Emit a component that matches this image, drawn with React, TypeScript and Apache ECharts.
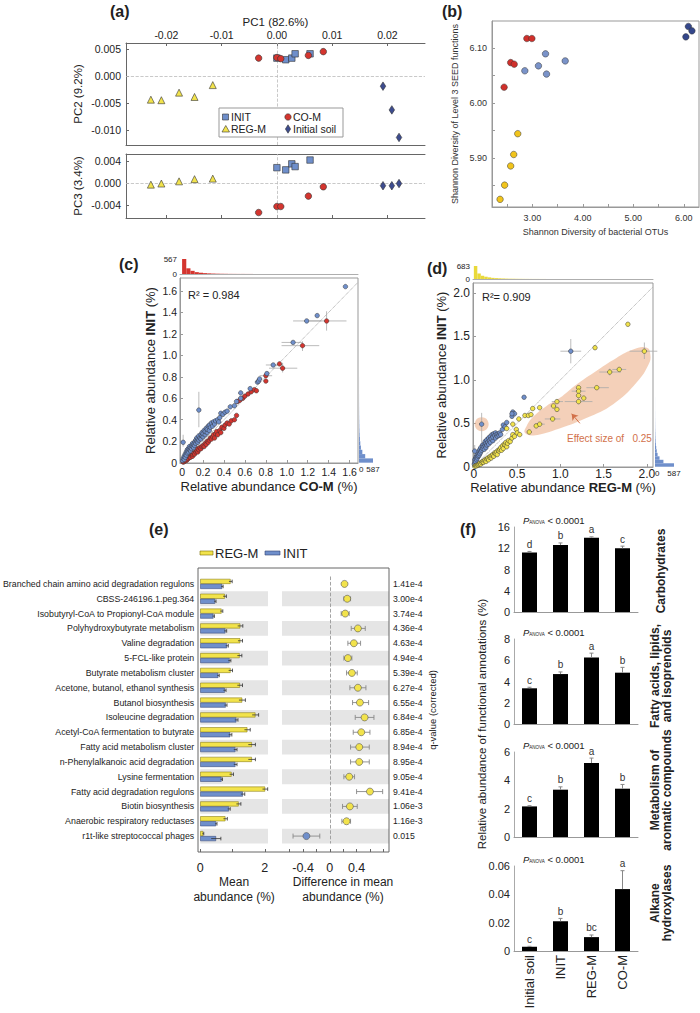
import { useEffect, useRef } from "react";
import * as echarts from "echarts";

const FONT = '"Liberation Sans", Arial, Helvetica, sans-serif';
const INK = "#222";

const COL_INIT = "#6f8fcb";
const COL_COM = "#d4352f";
const COL_REG = "#f2e34c";
const COL_SOIL = "#3d4c8f";
const COL_B_SOIL = "#34478b";
const COL_B_INIT = "#7a93c9";
const COL_B_COM = "#d0302b";
const COL_B_REG = "#f1c41c";
const COL_EFFECT = "#d2714a";

// ---------------- (a) PCoA scores [PC1, PC2, PC3]
const aInit = [
  [0.0, 0.0033, 0.0028],
  [0.0016, 0.003, 0.0024],
  [0.0027, 0.0033, 0.0035],
  [0.0033, 0.0041, 0.003],
  [0.006, 0.0041, 0.0042],
];
const aCoM = [
  [-0.0033, 0.0033, -0.0054],
  [0.0, 0.0034, -0.0043],
  [0.0007, 0.0032, -0.0043],
  [0.0057, 0.0038, -0.0024],
  [0.0084, 0.0045, -0.0007],
];
const aRegM = [
  [-0.0228, -0.0044, -0.0003],
  [-0.0209, -0.0045, -0.0001],
  [-0.0177, -0.0031, 0.0003],
  [-0.0149, -0.0039, 0.0007],
  [-0.0116, -0.0017, 0.0008],
];
const aSoil = [
  [0.0192, -0.0019, -0.0005],
  [0.0208, -0.0063, -0.0005],
  [0.0221, -0.0114, -0.0001],
];
const aPc1Ticks = [-0.02, -0.01, 0, 0.01, 0.02];
const aPc2Ticks = [-0.01, -0.005, 0, 0.005];
const aPc3Ticks = [-0.004, 0, 0.004];

// ---------------- (b) Shannon diversity [OTUs, SEED functions]
const bSoil = [[6.09, 6.14], [6.16, 6.132], [6.04, 6.121]];
const bInit = [[3.26, 6.09], [3.65, 6.077], [3.12, 6.068], [2.85, 6.059], [3.28, 6.053]];
const bCoM = [[2.89, 6.118], [2.99, 6.118], [2.57, 6.074], [2.64, 6.071], [2.44, 6.029]];
const bRegM = [[2.71, 5.944], [2.63, 5.906], [2.57, 5.885], [2.45, 5.85], [2.36, 5.824]];
const bXLabels = [3, 4, 5, 6];
const bXTicks = [2.5, 3, 3.5, 4, 4.5, 5, 5.5, 6];
const bYLabels = [5.9, 6.0, 6.1];
const bYTicks = [5.85, 5.9, 5.95, 6.0, 6.05, 6.1];

// ---------------- (c) CO-M (x) vs INIT (y) relative abundance (%)
const cInitHigher = [
  [0.005, 0.02], [0.01, 0.04], [0.02, 0.03], [0.02, 0.06], [0.03, 0.05], [0.03, 0.08], [0.04, 0.07], [0.04, 0.1],
  [0.05, 0.09], [0.05, 0.12], [0.06, 0.1], [0.06, 0.13], [0.07, 0.12], [0.07, 0.15], [0.08, 0.11], [0.08, 0.14],
  [0.09, 0.13], [0.09, 0.16], [0.1, 0.15], [0.1, 0.18], [0.11, 0.14], [0.11, 0.17], [0.12, 0.16], [0.12, 0.19],
  [0.13, 0.18], [0.13, 0.21], [0.14, 0.2], [0.14, 0.23], [0.15, 0.19], [0.15, 0.22], [0.16, 0.21], [0.16, 0.25],
  [0.17, 0.23], [0.18, 0.22], [0.18, 0.26], [0.19, 0.25], [0.19, 0.28], [0.2, 0.24], [0.2, 0.27], [0.21, 0.3],
  [0.22, 0.26], [0.22, 0.29], [0.23, 0.32], [0.24, 0.28], [0.24, 0.31], [0.25, 0.34], [0.26, 0.3], [0.26, 0.35],
  [0.27, 0.33], [0.28, 0.37], [0.29, 0.34], [0.3, 0.38], [0.31, 0.36], [0.32, 0.39], [0.34, 0.4], [0.35, 0.38],
  [0.36, 0.42], [0.37, 0.46], [0.39, 0.45], [0.41, 0.47], [0.43, 0.48], [0.46, 0.52], [0.5, 0.53], [0.52, 0.57],
  [0.56, 0.6], [0.56, 0.65], [0.65, 0.69], [0.72, 0.75], [0.73, 0.76], [0.74, 0.78], [0.81, 0.83], [0.87, 0.91],
  [1.06, 1.12], [1.19, 1.32], [1.29, 1.37], [1.56, 1.64], [0.16, 0.49], [0.01, 0.19],
];
const cCoMHigher = [
  [0.01, 0.005], [0.02, 0.01], [0.03, 0.02], [0.04, 0.02], [0.05, 0.03], [0.06, 0.04], [0.07, 0.05], [0.08, 0.05],
  [0.09, 0.07], [0.1, 0.06], [0.1, 0.08], [0.11, 0.09], [0.12, 0.08], [0.13, 0.1], [0.14, 0.11], [0.15, 0.1],
  [0.15, 0.13], [0.16, 0.12], [0.17, 0.14], [0.18, 0.13], [0.19, 0.15], [0.2, 0.16], [0.21, 0.15], [0.22, 0.18],
  [0.23, 0.17], [0.24, 0.2], [0.25, 0.19], [0.26, 0.21], [0.27, 0.23], [0.28, 0.22], [0.29, 0.24], [0.3, 0.26],
  [0.31, 0.23], [0.32, 0.27], [0.33, 0.29], [0.34, 0.26], [0.36, 0.3], [0.37, 0.28], [0.38, 0.33], [0.4, 0.32],
  [0.41, 0.35], [0.43, 0.37], [0.45, 0.36], [0.47, 0.39], [0.5, 0.4], [0.52, 0.44], [0.53, 0.57], [0.55, 0.58],
  [0.58, 0.6], [0.6, 0.62], [0.63, 0.64], [0.66, 0.66], [0.69, 0.68], [0.71, 0.67], [0.8, 0.81], [0.8, 0.76],
  [0.93, 0.92], [0.96, 0.88], [1.15, 1.09], [1.38, 1.32],
];
// [x, y, xLow, xHigh, yLow, yHigh]
const cErrorBars = [
  [1.19, 1.32, 1.06, 1.33, 1.32, 1.32],
  [1.38, 1.32, 1.22, 1.57, 1.23, 1.41],
  [1.06, 1.12, 0.95, 1.15, 1.12, 1.12],
  [1.15, 1.09, 0.95, 1.31, 1.04, 1.13],
  [0.87, 0.91, 0.8, 0.96, 0.91, 0.91],
  [0.96, 0.88, 0.83, 1.1, 0.84, 0.93],
  [0.8, 0.81, 0.74, 0.86, 0.81, 0.81],
  [0.16, 0.49, 0.15, 0.17, 0.33, 0.66],
  [0.01, 0.19, 0.005, 0.015, 0.15, 0.26],
];
const cTicks = [0, 0.2, 0.4, 0.6, 0.8, 1.0, 1.2, 1.4, 1.6];
const HIST_BIN = 0.04;
const cTopHist = [567, 215, 120, 70, 48, 33, 24, 17, 12, 9, 7, 5, 4, 3, 3, 2, 2, 1, 1, 1, 1, 1, 0, 1, 1];
const initRightHist = [587, 260, 140, 80, 55, 38, 26, 18, 13, 10, 7, 5, 4, 3, 2, 2, 1, 1, 1, 1];

// ---------------- (d) REG-M (x) vs INIT (y)
const dInitHigher = [
  [0.005, 0.03], [0.01, 0.05], [0.01, 0.08], [0.02, 0.06], [0.02, 0.1], [0.03, 0.08], [0.03, 0.12], [0.04, 0.1],
  [0.04, 0.14], [0.05, 0.12], [0.05, 0.16], [0.06, 0.13], [0.06, 0.18], [0.07, 0.15], [0.07, 0.2], [0.08, 0.17],
  [0.08, 0.22], [0.09, 0.19], [0.1, 0.21], [0.1, 0.25], [0.11, 0.23], [0.12, 0.2], [0.12, 0.26], [0.13, 0.24],
  [0.13, 0.29], [0.14, 0.22], [0.14, 0.27], [0.15, 0.25], [0.15, 0.31], [0.16, 0.28], [0.17, 0.26], [0.17, 0.33],
  [0.18, 0.3], [0.19, 0.35], [0.19, 0.28], [0.2, 0.32], [0.21, 0.37], [0.22, 0.3], [0.22, 0.34], [0.23, 0.38],
  [0.24, 0.36], [0.25, 0.33], [0.25, 0.39], [0.26, 0.37], [0.27, 0.35], [0.28, 0.38], [0.29, 0.36], [0.3, 0.39],
  [0.31, 0.37], [0.33, 0.43], [0.34, 0.48], [0.36, 0.46], [0.38, 0.51], [0.44, 0.58], [0.45, 0.63], [0.47, 0.61],
  [0.44, 0.61], [0.58, 0.8], [1.12, 1.33], [0.09, 0.49], [0.01, 0.18],
];
const dRegHigher = [
  [0.01, 0.005], [0.02, 0.01], [0.03, 0.01], [0.04, 0.02], [0.05, 0.02], [0.06, 0.03], [0.07, 0.04], [0.08, 0.03],
  [0.09, 0.05], [0.1, 0.06], [0.11, 0.05], [0.12, 0.07], [0.13, 0.08], [0.14, 0.06], [0.15, 0.09], [0.16, 0.1],
  [0.17, 0.08], [0.18, 0.11], [0.19, 0.12], [0.2, 0.1], [0.21, 0.13], [0.22, 0.14], [0.23, 0.12], [0.24, 0.16],
  [0.25, 0.15], [0.26, 0.17], [0.27, 0.14], [0.28, 0.19], [0.29, 0.18], [0.3, 0.2], [0.31, 0.22], [0.32, 0.19],
  [0.33, 0.24], [0.34, 0.21], [0.35, 0.26], [0.36, 0.25], [0.37, 0.28], [0.38, 0.23], [0.39, 0.27], [0.4, 0.3],
  [0.42, 0.29], [0.44, 0.33], [0.45, 0.37], [0.47, 0.35], [0.49, 0.43], [0.5, 0.39], [0.53, 0.37], [0.45, 0.49],
  [0.38, 0.44], [0.52, 0.55], [0.59, 0.59], [0.63, 0.59], [0.66, 0.6], [0.68, 0.67], [0.76, 0.68], [0.72, 0.47],
  [0.76, 0.49], [0.64, 0.4], [0.91, 0.55], [0.96, 0.75], [0.92, 0.7], [0.96, 0.66], [1.21, 0.91], [1.21, 0.87],
  [1.21, 0.82], [1.27, 0.79], [1.21, 0.75], [1.42, 0.91], [1.57, 1.09], [1.68, 1.12], [1.4, 1.37], [1.78, 1.64],
  [1.97, 1.33],
];
const dErrorBars = [
  [1.97, 1.33, 1.8, 2.12, 1.24, 1.43],
  [1.57, 1.09, 1.45, 1.7, 1.05, 1.13],
  [1.68, 1.12, 1.6, 1.76, 1.1, 1.14],
  [1.42, 0.91, 1.3, 1.56, 0.89, 0.93],
  [1.21, 0.75, 1.05, 1.37, 0.72, 0.79],
  [1.21, 0.87, 1.13, 1.29, 0.85, 0.9],
  [0.91, 0.55, 0.82, 1.0, 0.53, 0.57],
  [0.96, 0.75, 0.9, 1.03, 0.73, 0.77],
  [0.76, 0.49, 0.7, 0.82, 0.48, 0.5],
  [1.12, 1.33, 1.0, 1.24, 1.19, 1.47],
  [0.09, 0.49, 0.08, 0.1, 0.28, 0.62],
  [0.01, 0.18, 0.005, 0.015, 0.1, 0.25],
];
const dEffectRegion = [
  [0.61, 0.47], [0.59, 0.39], [0.69, 0.36], [0.99, 0.44], [1.3, 0.56], [1.61, 0.72], [1.88, 0.97],
  [2.02, 1.18], [2.04, 1.29], [2.0, 1.37], [1.84, 1.35], [1.61, 1.23], [1.38, 1.08], [1.19, 0.95],
  [0.99, 0.79], [0.84, 0.7], [0.69, 0.58],
];
const dHighlight = [[0.09, 0.49]];
const dArrow = [[1.13, 0.61], [1.225, 0.5]];
const dTicks = [0, 0.5, 1.0, 1.5, 2.0];
const dTopHist = [683, 290, 170, 120, 85, 60, 45, 35, 27, 20, 15, 12, 10, 8, 6, 5, 4, 3, 3, 2, 2, 1, 1, 1];

// ---------------- (e) extended error bar plot
const eFunctions = [
  "Branched chain amino acid degradation regulons",
  "CBSS-246196.1.peg.364",
  "Isobutyryl-CoA to Propionyl-CoA module",
  "Polyhydroxybutyrate metabolism",
  "Valine degradation",
  "5-FCL-like protein",
  "Butyrate metabolism cluster",
  "Acetone, butanol, ethanol synthesis",
  "Butanol biosynthesis",
  "Isoleucine degradation",
  "Acetyl-CoA fermentation to butyrate",
  "Fatty acid metabolism cluster",
  "n-Phenylalkanoic acid degradation",
  "Lysine fermentation",
  "Fatty acid degradation regulons",
  "Biotin biosynthesis",
  "Anaerobic respiratory reductases",
  "r1t-like streptococcal phages",
];
const eMeanReg = [0.94, 0.76, 0.66, 1.24, 1.24, 1.22, 0.94, 1.23, 1.3, 1.71, 1.46, 1.6, 1.6, 0.97, 2.01, 1.19, 0.78, 0.09];
const eMeanInit = [0.68, 0.46, 0.41, 0.78, 0.83, 0.91, 0.56, 0.76, 0.79, 1.12, 0.93, 1.09, 1.09, 0.66, 1.32, 0.89, 0.49, 0.49];
const eErrReg = [0.05, 0.05, 0.04, 0.08, 0.07, 0.07, 0.06, 0.08, 0.1, 0.1, 0.09, 0.11, 0.11, 0.06, 0.08, 0.07, 0.06, 0.02];
const eErrInit = [0.03, 0.03, 0.03, 0.04, 0.04, 0.04, 0.03, 0.04, 0.04, 0.05, 0.05, 0.05, 0.05, 0.03, 0.06, 0.04, 0.03, 0.15];
const eDiff = [0.22, 0.26, 0.23, 0.42, 0.36, 0.27, 0.33, 0.42, 0.45, 0.52, 0.47, 0.44, 0.44, 0.29, 0.6, 0.3, 0.25, -0.35];
const eDiffLo = [0.2, 0.21, 0.17, 0.32, 0.27, 0.21, 0.25, 0.3, 0.34, 0.38, 0.35, 0.31, 0.31, 0.21, 0.4, 0.19, 0.18, -0.55];
const eDiffHi = [0.24, 0.31, 0.29, 0.53, 0.46, 0.33, 0.41, 0.54, 0.58, 0.66, 0.6, 0.59, 0.59, 0.37, 0.79, 0.41, 0.31, -0.15];
const eQValues = [
  "1.41e-4", "3.00e-4", "3.74e-4", "4.36e-4", "4.63e-4", "4.94e-4", "5.39e-4", "6.27e-4", "6.55e-4",
  "6.84e-4", "6.85e-4", "8.94e-4", "8.95e-4", "9.05e-4", "9.41e-4", "1.06e-3", "1.16e-3", "0.015",
];

// ---------------- (f) functional categories
const fCategories = ["Initial soil", "INIT", "REG-M", "CO-M"];
const fPanels = [
  { name: "Carbohydrates", values: [11.2, 12.6, 14.0, 12.0], errors: [0.2, 0.4, 0.15, 0.4], letters: ["d", "b", "a", "c"], max: 16, step: 4 },
  { name: "Fatty acids, lipids,\nand isoprenoids", values: [3.36, 4.7, 6.27, 4.83], errors: [0.1, 0.2, 0.4, 0.5], letters: ["c", "b", "a", "b"], max: 8, step: 2 },
  { name: "Metabolism of\naromatic compounds", values: [2.16, 3.34, 5.22, 3.41], errors: [0.05, 0.2, 0.35, 0.3], letters: ["c", "b", "a", "b"], max: 6, step: 2 },
  { name: "Alkane\nhydroxylases", values: [0.003, 0.021, 0.0098, 0.0437], errors: [0.0003, 0.002, 0.0015, 0.013], letters: ["c", "b", "bc", "a"], max: 0.06, step: 0.02 },
];

// ---------------- layout
const F_TOPS = [527, 639, 752, 866];
const F_SIDE_Y = [571, 676, 790, 903];

function vAxis(extra: any) {
  return Object.assign(
    {
      type: "value",
      splitLine: { show: false },
      axisTick: { show: false },
      axisLabel: { show: false },
      axisLine: { show: false, onZero: false },
    },
    extra
  );
}
const lineStyle = (c: string, w = 1) => ({ show: true, onZero: false, lineStyle: { color: c, width: w } });
const lbl = (size: number, extra: any = {}) => Object.assign({ show: true, fontSize: size, color: INK, fontFamily: FONT }, extra);
const oneDec = (v: number) => (v === 0 ? "0" : v.toFixed(1));

function T(x: number, y: number, text: string, o: any = {}) {
  const align = o.align || "left";
  const va = o.va || "middle";
  return {
    type: "text",
    x,
    y,
    rotation: o.rotation || 0,
    z: 100,
    style: {
      text,
      fill: o.fill || INK,
      fontSize: o.fontSize || 12,
      fontWeight: o.fontWeight || "normal",
      fontStyle: o.fontStyle || "normal",
      fontFamily: FONT,
      align,
      verticalAlign: va,
      textAlign: align,
      textVerticalAlign: va,
      lineHeight: o.lineHeight,
      rich: o.rich,
    },
  };
}

const crossErr = (color: string) => (params: any, api: any) => {
  const x = api.value(0);
  const y = api.value(1);
  const a = api.coord([api.value(2), y]);
  const b = api.coord([api.value(3), y]);
  const c = api.coord([x, api.value(4)]);
  const d = api.coord([x, api.value(5)]);
  return {
    type: "group",
    children: [
      { type: "line", shape: { x1: a[0], y1: a[1], x2: b[0], y2: b[1] }, style: { stroke: color, lineWidth: 0.8 } },
      { type: "line", shape: { x1: c[0], y1: c[1], x2: d[0], y2: d[1] }, style: { stroke: color, lineWidth: 0.8 } },
    ],
  };
};
const histTop = (color: string) => (params: any, api: any) => {
  const p0 = api.coord([api.value(0), 0]);
  const p1 = api.coord([api.value(1), api.value(2)]);
  return { type: "rect", shape: { x: p0[0], y: p1[1], width: p1[0] - p0[0], height: p0[1] - p1[1] }, style: { fill: color } };
};
const histRight = (color: string) => (params: any, api: any) => {
  const p0 = api.coord([0, api.value(0)]);
  const p1 = api.coord([api.value(2), api.value(1)]);
  return { type: "rect", shape: { x: p0[0], y: p1[1], width: p1[0] - p0[0], height: p0[1] - p1[1] }, style: { fill: color } };
};
const binned = (counts: number[]) => counts.map((c, i) => [i * HIST_BIN, (i + 1) * HIST_BIN, c]);

function buildOption() {
  const grid: any[] = [
    { left: 126, top: 43, width: 299, height: 102 }, // 0 a PC2
    { left: 126, top: 154, width: 299, height: 64 }, // 1 a PC3
    { left: 492, top: 21, width: 207, height: 186, show: true, borderColor: "#999", borderWidth: 1 }, // 2 b
    { left: 180, top: 278, width: 178, height: 185, show: true, borderColor: "#999", borderWidth: 1 }, // 3 c
    { left: 180, top: 259, width: 178, height: 15 }, // 4 c top hist
    { left: 359, top: 278, width: 14, height: 185 }, // 5 c right hist
    { left: 473, top: 283, width: 180, height: 184, show: true, borderColor: "#999", borderWidth: 1 }, // 6 d
    { left: 473, top: 266, width: 180, height: 13 }, // 7 d top hist
    { left: 655, top: 283, width: 19, height: 184 }, // 8 d right hist
    { left: 198, top: 576.5, width: 70, height: 267 }, // 9 e left
    { left: 282, top: 576.5, width: 107, height: 267 }, // 10 e right
  ];
  F_TOPS.forEach((t) => grid.push({ left: 514, top: t, width: 124, height: 85 }));

  const nameRich = (fs: number) => ({
    fontSize: fs,
    color: INK,
    fontFamily: FONT,
    rich: {
      n: { fontSize: fs, color: INK, fontFamily: FONT },
      b: { fontSize: fs, color: INK, fontFamily: FONT, fontWeight: "bold" },
    },
  });

  const xAxis: any[] = [
    // 0: a PC2 top
    vAxis({
      gridIndex: 0, position: "top", min: -0.0273, max: 0.0268,
      name: "PC1 (82.6%)", nameLocation: "middle", nameGap: 14,
      nameTextStyle: { fontSize: 11.5, color: INK, fontFamily: FONT },
      axisLine: lineStyle("#666"),
      axisTick: { show: true, inside: true, length: 3, customValues: aPc1Ticks, lineStyle: { color: "#666" } },
      axisLabel: lbl(10.5, { customValues: aPc1Ticks, formatter: (v: number) => v.toFixed(2), margin: 3 }),
    }),
    // 1: a PC2 bottom line
    vAxis({ gridIndex: 0, position: "bottom", min: -0.0273, max: 0.0268, axisLine: lineStyle("#666") }),
    // 2: a PC3 top line
    vAxis({ gridIndex: 1, position: "top", min: -0.0273, max: 0.0268, axisLine: lineStyle("#666") }),
    // 3: a PC3 bottom
    vAxis({
      gridIndex: 1, position: "bottom", min: -0.0273, max: 0.0268, axisLine: lineStyle("#666"),
      axisTick: { show: true, inside: true, length: 3, customValues: aPc1Ticks, lineStyle: { color: "#666" } },
    }),
    // 4: b
    vAxis({
      gridIndex: 2, min: 2.2, max: 6.3, axisLine: lineStyle("#999"),
      axisTick: { show: true, inside: true, length: 3, customValues: bXTicks, lineStyle: { color: "#999" } },
      axisLabel: lbl(9, { customValues: bXLabels, formatter: (v: number) => v.toFixed(2), margin: 6, color: "#333" }),
      name: "Shannon Diversity of bacterial OTUs", nameLocation: "middle", nameGap: 20,
      nameTextStyle: { fontSize: 9, color: "#333", fontFamily: FONT },
    }),
    // 5: c main
    vAxis({
      gridIndex: 3, min: -0.02, max: 1.68, axisLine: lineStyle("#999"),
      axisTick: { show: true, inside: true, length: 3, customValues: cTicks, lineStyle: { color: "#999" } },
      axisLabel: lbl(10.5, { customValues: cTicks, formatter: oneDec, margin: 3 }),
      name: "{n|Relative abundance }{b|CO-M}{n| (%)}", nameLocation: "middle", nameGap: 17,
      nameTextStyle: nameRich(13),
    }),
    // 6: c top hist
    vAxis({ gridIndex: 4, min: -0.02, max: 1.68, axisLine: lineStyle("#999", 0.8) }),
    // 7: c right hist
    vAxis({ gridIndex: 5, min: 0, max: 587, axisLabel: lbl(8, { customValues: [0, 587], margin: 2, alignMinLabel: "left" }) }),
    // 8: d main
    vAxis({
      gridIndex: 6, min: -0.01, max: 2.07, axisLine: lineStyle("#999"),
      axisTick: { show: true, inside: true, length: 3, customValues: dTicks, lineStyle: { color: "#999" } },
      axisLabel: lbl(12, { customValues: dTicks, formatter: oneDec, margin: 1 }),
      name: "{n|Relative abundance }{b|REG-M}{n| (%)}", nameLocation: "middle", nameGap: 10,
      nameTextStyle: nameRich(13),
    }),
    // 9: d top hist
    vAxis({ gridIndex: 7, min: -0.01, max: 2.07, axisLine: lineStyle("#999", 0.8) }),
    // 10: d right hist
    vAxis({ gridIndex: 8, min: 0, max: 587, axisLabel: lbl(8, { customValues: [0, 587], margin: 2, alignMinLabel: "left" }) }),
    // 11: e left
    vAxis({
      gridIndex: 9, min: 0, max: 2.1, offset: 8.5,
      axisTick: { show: true, inside: true, length: 3, customValues: [0, 1, 2], lineStyle: { color: "#666" } },
      axisLabel: lbl(12.5, { customValues: [0, 2], margin: 9 }),
      name: "Mean\nabundance (%)", nameLocation: "middle", nameGap: 23,
      nameTextStyle: { fontSize: 12, lineHeight: 14.5, color: INK, fontFamily: FONT },
    }),
    // 12: e right
    vAxis({
      gridIndex: 10, min: -0.715, max: 0.885, offset: 8.5,
      axisTick: { show: true, inside: true, length: 3, customValues: [-0.6, -0.4, -0.2, 0, 0.2, 0.4, 0.6, 0.8], lineStyle: { color: "#666" } },
      axisLabel: lbl(12.5, { customValues: [-0.4, 0, 0.4], formatter: oneDec, margin: 9 }),
      name: "Difference in mean\nabundance (%)", nameLocation: "middle", nameGap: 23,
      nameTextStyle: { fontSize: 12, lineHeight: 14.5, color: INK, fontFamily: FONT, padding: [0, 0, 0, 15] },
    }),
  ];
  fPanels.forEach((p, k) => {
    xAxis.push({
      type: "category", gridIndex: 11 + k, data: fCategories,
      axisLine: lineStyle("#999"), axisTick: { show: false },
      axisLabel: k === 3 ? lbl(13, { rotate: 90, margin: 4, interval: 0 }) : { show: false },
    });
  });

  const rowBands = { show: true, interval: 0, areaStyle: { color: ["rgba(255,255,255,0)", "#e5e5e5"] } };
  const yAxis: any[] = [
    // 0: a PC2
    vAxis({
      gridIndex: 0, min: -0.0128, max: 0.0061, axisLine: lineStyle("#666"),
      axisTick: { show: true, inside: true, length: 3, customValues: aPc2Ticks, lineStyle: { color: "#666" } },
      axisLabel: lbl(10.5, { customValues: aPc2Ticks, formatter: (v: number) => v.toFixed(3), margin: 5 }),
      name: "PC2 (9.2%)", nameLocation: "middle", nameGap: 42,
      nameTextStyle: { fontSize: 11.5, color: INK, fontFamily: FONT },
    }),
    // 1: a PC3
    vAxis({
      gridIndex: 1, min: -0.0064, max: 0.0053, axisLine: lineStyle("#666"),
      axisTick: { show: true, inside: true, length: 3, customValues: aPc3Ticks, lineStyle: { color: "#666" } },
      axisLabel: lbl(10.5, { customValues: aPc3Ticks, formatter: (v: number) => v.toFixed(3), margin: 5 }),
      name: "PC3 (3.4%)", nameLocation: "middle", nameGap: 42,
      nameTextStyle: { fontSize: 11.5, color: INK, fontFamily: FONT },
    }),
    // 2: b
    vAxis({
      gridIndex: 2, min: 5.81, max: 6.15, axisLine: lineStyle("#999"),
      axisTick: { show: true, inside: true, length: 3, customValues: bYTicks, lineStyle: { color: "#999" } },
      axisLabel: lbl(9, { customValues: bYLabels, formatter: (v: number) => v.toFixed(2), margin: 5, color: "#333" }),
      name: "Shannon Diversity of Level 3 SEED functions", nameLocation: "middle", nameGap: 33,
      nameTextStyle: { fontSize: 9, color: "#333", fontFamily: FONT },
    }),
    // 3: c main
    vAxis({
      gridIndex: 3, min: -0.003, max: 1.72, axisLine: lineStyle("#999"),
      axisTick: { show: true, inside: true, length: 3, customValues: cTicks, lineStyle: { color: "#999" } },
      axisLabel: lbl(10.5, { customValues: cTicks, formatter: oneDec, margin: 3 }),
      name: "{n|Relative abundance }{b|INIT}{n| (%)}", nameLocation: "middle", nameGap: 23,
      nameTextStyle: nameRich(13),
    }),
    // 4: c top hist
    vAxis({ gridIndex: 4, min: 0, max: 567, axisLabel: lbl(8, { customValues: [0, 567], margin: 3 }) }),
    // 5: c right hist
    vAxis({ gridIndex: 5, min: -0.003, max: 1.72 }),
    // 6: d main
    vAxis({
      gridIndex: 6, min: -0.003, max: 2.115, axisLine: lineStyle("#999"),
      axisTick: { show: true, inside: true, length: 3, customValues: dTicks, lineStyle: { color: "#999" } },
      axisLabel: lbl(12, { customValues: dTicks, formatter: oneDec, margin: 3 }),
      name: "{n|Relative abundance }{b|INIT}{n| (%)}", nameLocation: "middle", nameGap: 25,
      nameTextStyle: nameRich(13),
    }),
    // 7: d top hist
    vAxis({ gridIndex: 7, min: 0, max: 683, axisLabel: lbl(8, { customValues: [0, 683], margin: 3 }) }),
    // 8: d right hist
    vAxis({ gridIndex: 8, min: -0.003, max: 2.115 }),
    // 9: e left rows
    {
      type: "category", gridIndex: 9, inverse: true, data: eFunctions,
      axisLine: { show: false }, axisTick: { show: false, interval: 0 },
      axisLabel: lbl(8.8, { margin: 6, interval: 0 }),
      splitArea: rowBands,
    },
    // 10: e right rows
    {
      type: "category", gridIndex: 10, inverse: true, data: eFunctions,
      axisLine: { show: false }, axisTick: { show: false, interval: 0 }, axisLabel: { show: false, interval: 0 },
      splitArea: rowBands,
    },
    // 11: e q-values
    {
      type: "category", gridIndex: 10, inverse: true, position: "right", data: eQValues,
      axisLine: { show: false }, axisTick: { show: false, interval: 0 },
      axisLabel: lbl(8.7, { margin: 4, interval: 0 }),
      name: "q-value (corrected)", nameLocation: "middle", nameGap: 38, nameRotate: 90,
      nameTextStyle: { fontSize: 9.5, color: INK, fontFamily: FONT },
    },
  ];
  fPanels.forEach((p, k) => {
    yAxis.push(
      vAxis({
        gridIndex: 11 + k, min: 0, max: p.max, interval: p.step,
        axisLine: lineStyle("#aaa"),
        axisLabel: lbl(11, { margin: 4, formatter: (v: number) => (v === 0 ? "0" : p.max < 1 ? v.toFixed(2) : String(v)) }),
      })
    );
  });

  const zeroLines = {
    silent: true, symbol: "none", label: { show: false },
    lineStyle: { type: "dashed", color: "#bbb", width: 0.8 },
    data: [{ xAxis: 0 }, { yAxis: 0 }],
  };
  const aSym = (name: string, data: number[][], dimY: number, xi: number, yi: number, symbol: string, size: any, color: string, withLines: boolean) => ({
    type: "scatter", name, xAxisIndex: xi, yAxisIndex: yi, symbol, symbolSize: size,
    data: data.map((p) => [p[0], p[dimY]]),
    itemStyle: { color, borderColor: "#333", borderWidth: 0.6, opacity: 1 },
    markLine: withLines ? zeroLines : undefined,
    z: 5,
  });
  const pt = (data: number[][], xi: number, yi: number, color: string, size = 4.5, extra: any = {}) =>
    Object.assign({
      type: "scatter", xAxisIndex: xi, yAxisIndex: yi, data, symbolSize: size,
      itemStyle: { color, borderColor: "#333", borderWidth: 0.5, opacity: 1 }, z: 5,
    }, extra);

  const series: any[] = [
    // (a)
    aSym("INIT", aInit, 1, 0, 0, "rect", 6.5, COL_INIT, true),
    aSym("CO-M", aCoM, 1, 0, 0, "circle", 6.5, COL_COM, false),
    aSym("REG-M", aRegM, 1, 0, 0, "triangle", 7, COL_REG, false),
    aSym("Initial soil", aSoil, 1, 0, 0, "diamond", [5.5, 8.5], COL_SOIL, false),
    aSym("INIT", aInit, 2, 3, 1, "rect", 6.5, COL_INIT, true),
    aSym("CO-M", aCoM, 2, 3, 1, "circle", 6.5, COL_COM, false),
    aSym("REG-M", aRegM, 2, 3, 1, "triangle", 7, COL_REG, false),
    aSym("Initial soil", aSoil, 2, 3, 1, "diamond", [5.5, 8.5], COL_SOIL, false),
    // (b)
    pt(bSoil, 4, 2, COL_B_SOIL, 6.5),
    pt(bInit, 4, 2, COL_B_INIT, 6.5),
    pt(bCoM, 4, 2, COL_B_COM, 6.5),
    pt(bRegM, 4, 2, COL_B_REG, 6.5),
    // (c)
    { type: "custom", xAxisIndex: 5, yAxisIndex: 3, data: cErrorBars, encode: { x: 0, y: 1 }, renderItem: crossErr("#aaa"), z: 3, silent: true },
    pt(cCoMHigher, 5, 3, COL_COM, 4.5),
    pt(cInitHigher, 5, 3, COL_INIT, 4.5, {
      markLine: {
        silent: true, symbol: "none", label: { show: false },
        lineStyle: { type: "dotted", color: "#999", width: 0.9 },
        data: [[{ coord: [0, 0] }, { coord: [1.68, 1.68] }]],
      },
    }),
    { type: "custom", xAxisIndex: 6, yAxisIndex: 4, data: binned(cTopHist), encode: { x: [0, 1], y: 2 }, renderItem: histTop(COL_COM), silent: true },
    { type: "custom", xAxisIndex: 7, yAxisIndex: 5, data: binned(initRightHist), encode: { x: 2, y: [0, 1] }, renderItem: histRight(COL_INIT), silent: true },
    // (d)
    {
      type: "custom", xAxisIndex: 8, yAxisIndex: 6, data: dEffectRegion, encode: { x: 0, y: 1 }, silent: true, z: 1,
      renderItem: (params: any, api: any) => {
        if (params.dataIndex !== 0) return null;
        const pts = dEffectRegion.map((p) => api.coord(p));
        return { type: "polygon", shape: { points: pts, smooth: 0.45 }, style: { fill: "rgba(236,176,138,0.6)" } };
      },
    },
    {
      type: "custom", xAxisIndex: 8, yAxisIndex: 6, data: dHighlight, encode: { x: 0, y: 1 }, silent: true, z: 1,
      renderItem: (params: any, api: any) => {
        const c = api.coord([api.value(0), api.value(1)]);
        return { type: "circle", shape: { cx: c[0], cy: c[1], r: 7 }, style: { fill: "rgba(236,176,138,0.6)" } };
      },
    },
    { type: "custom", xAxisIndex: 8, yAxisIndex: 6, data: dErrorBars, encode: { x: 0, y: 1 }, renderItem: crossErr("#aaa"), z: 3, silent: true },
    pt(dInitHigher, 8, 6, COL_INIT, 4.5, {
      markLine: {
        silent: true, symbol: "none", label: { show: false },
        lineStyle: { type: "dotted", color: "#999", width: 0.9 },
        data: [[{ coord: [0, 0] }, { coord: [2.07, 2.07] }]],
      },
    }),
    pt(dRegHigher, 8, 6, COL_REG, 4.5, {
      markLine: {
        silent: true, symbol: ["arrow", "none"], symbolSize: 6, label: { show: false },
        lineStyle: { type: "solid", color: COL_EFFECT, width: 1 },
        data: [[{ coord: dArrow[0] }, { coord: dArrow[1] }]],
      },
    }),
    { type: "custom", xAxisIndex: 9, yAxisIndex: 7, data: binned(dTopHist), encode: { x: [0, 1], y: 2 }, renderItem: histTop("#e9d93a"), silent: true },
    { type: "custom", xAxisIndex: 10, yAxisIndex: 8, data: binned(initRightHist), encode: { x: 2, y: [0, 1] }, renderItem: histRight(COL_INIT), silent: true },
    // (e)
    {
      type: "bar", xAxisIndex: 11, yAxisIndex: 9, data: eMeanReg, barWidth: 5, barGap: "0%",
      itemStyle: { color: COL_REG, borderColor: "#7a6c00", borderWidth: 0.5 }, z: 3,
    },
    {
      type: "bar", xAxisIndex: 11, yAxisIndex: 9, data: eMeanInit, barWidth: 5, barGap: "0%",
      itemStyle: { color: COL_INIT, borderColor: "#2f3f6e", borderWidth: 0.5 }, z: 3,
    },
    {
      type: "custom", xAxisIndex: 11, yAxisIndex: 9, silent: true, z: 4,
      data: eMeanReg.map((m, i) => [m, i, eErrReg[i], -1]).concat(eMeanInit.map((m, i) => [m, i, eErrInit[i], 1])),
      encode: { x: 0, y: 1 },
      renderItem: (params: any, api: any) => {
        const m = api.value(0), i = api.value(1), e = api.value(2), s = api.value(3);
        const c = api.coord([m, i]);
        const hi = api.coord([m + e, i]);
        const lo = api.coord([Math.max(m - e, 0), i]);
        const y = c[1] + s * 2.5;
        return {
          type: "group",
          children: [
            { type: "line", shape: { x1: lo[0], y1: y, x2: hi[0], y2: y }, style: { stroke: "#333", lineWidth: 0.8 } },
            { type: "line", shape: { x1: hi[0], y1: y - 1.8, x2: hi[0], y2: y + 1.8 }, style: { stroke: "#333", lineWidth: 0.8 } },
          ],
        };
      },
    },
    {
      type: "custom", xAxisIndex: 12, yAxisIndex: 10, silent: true, z: 3,
      data: eDiff.map((d, i) => [d, i, eDiffLo[i], eDiffHi[i]]),
      encode: { x: 0, y: 1 },
      renderItem: (params: any, api: any) => {
        const i = api.value(1);
        const lo = api.coord([api.value(2), i]);
        const hi = api.coord([api.value(3), i]);
        const st = { stroke: "#888", lineWidth: 0.9 };
        return {
          type: "group",
          children: [
            { type: "line", shape: { x1: lo[0], y1: lo[1], x2: hi[0], y2: hi[1] }, style: st },
            { type: "line", shape: { x1: lo[0], y1: lo[1] - 2.5, x2: lo[0], y2: lo[1] + 2.5 }, style: st },
            { type: "line", shape: { x1: hi[0], y1: hi[1] - 2.5, x2: hi[0], y2: hi[1] + 2.5 }, style: st },
          ],
        };
      },
    },
    {
      type: "scatter", xAxisIndex: 12, yAxisIndex: 10, symbolSize: 7, z: 5,
      data: eDiff.map((d, i) => ({ value: [d, i], itemStyle: { color: d >= 0 ? COL_REG : COL_INIT } })),
      itemStyle: { borderColor: "#555", borderWidth: 0.6, opacity: 1 },
      markLine: {
        silent: true, symbol: "none", label: { show: false },
        lineStyle: { type: "dashed", color: "#999", width: 0.9 },
        data: [{ xAxis: 0 }],
      },
    },
  ];
  fPanels.forEach((p, k) => {
    series.push({
      type: "bar", xAxisIndex: 13 + k, yAxisIndex: 12 + k, data: p.values, barWidth: 15,
      itemStyle: { color: "#000" }, z: 3,
    });
    series.push({
      type: "custom", xAxisIndex: 13 + k, yAxisIndex: 12 + k, silent: true, z: 4,
      data: p.values.map((v, i) => [i, v, p.errors[i]]),
      encode: { x: 0, y: 1 },
      renderItem: (params: any, api: any) => {
        const i = api.value(0), v = api.value(1), e = api.value(2);
        const b = api.coord([i, v]);
        const t = api.coord([i, v + e]);
        return {
          type: "group",
          children: [
            { type: "line", shape: { x1: b[0], y1: b[1], x2: t[0], y2: t[1] }, style: { stroke: "#888", lineWidth: 1 } },
            { type: "line", shape: { x1: t[0] - 2, y1: t[1], x2: t[0] + 2, y2: t[1] }, style: { stroke: "#888", lineWidth: 1 } },
            {
              type: "text", x: t[0], y: t[1] - 2,
              style: { text: p.letters[params.dataIndex], fill: "#333", fontSize: 10, fontFamily: FONT, align: "center", verticalAlign: "bottom", textAlign: "center", textVerticalAlign: "bottom" },
            },
          ],
        };
      },
    });
  });

  const bold16 = { fontSize: 16, fontWeight: "bold" };
  const graphic: any[] = [
    T(110, 11, "(a)", bold16),
    T(442, 11, "(b)", bold16),
    T(119, 264, "(c)", bold16),
    T(427, 268, "(d)", bold16),
    T(149, 529, "(e)", bold16),
    T(460, 529, "(f)", bold16),
    // (a) legend
    { type: "rect", z: 90, shape: { x: 219, y: 108, width: 124, height: 29 }, style: { fill: "#fff", stroke: "#999", lineWidth: 1 } },
    { type: "rect", z: 100, shape: { x: 222.5, y: 114, width: 6, height: 6 }, style: { fill: COL_INIT, stroke: "#333", lineWidth: 0.6 } },
    T(231, 117, "INIT", { fontSize: 10.5 }),
    { type: "circle", z: 100, shape: { cx: 288, cy: 117, r: 3.2 }, style: { fill: COL_COM, stroke: "#333", lineWidth: 0.6 } },
    T(293, 117, "CO-M", { fontSize: 10.5 }),
    { type: "polygon", z: 100, shape: { points: [[222, 132], [229.5, 132], [225.75, 125.5]] }, style: { fill: COL_REG, stroke: "#333", lineWidth: 0.6 } },
    T(231, 129, "REG-M", { fontSize: 10.5 }),
    { type: "polygon", z: 100, shape: { points: [[288, 124.8], [290.6, 129], [288, 133.2], [285.4, 129]] }, style: { fill: COL_SOIL, stroke: "#333", lineWidth: 0.6 } },
    T(293, 129, "Initial soil", { fontSize: 10.5 }),
    // R2
    T(188, 295, "R² = 0.984", { fontSize: 11 }),
    T(482, 297, "R²= 0.909", { fontSize: 11 }),
    T(567, 438, "Effect size of   0.25", { fontSize: 10, fill: COL_EFFECT }),
    // (e) legend
    { type: "rect", z: 100, shape: { x: 200, y: 551, width: 13, height: 4 }, style: { fill: COL_REG, stroke: "#7a6c00", lineWidth: 0.6 } },
    T(215, 553, "REG-M", { fontSize: 13 }),
    { type: "rect", z: 100, shape: { x: 265, y: 551, width: 15, height: 4 }, style: { fill: COL_INIT, stroke: "#2f3f6e", lineWidth: 0.6 } },
    T(283, 553, "INIT", { fontSize: 13 }),
    // (e) frame
    { type: "rect", z: 60, shape: { x: 198, y: 568, width: 191, height: 284 }, style: { fill: "none", stroke: "#666", lineWidth: 1 } },
    // (f)
    T(482, 724, "Relative abundance of functional annotations (%)", { fontSize: 11.5, rotation: Math.PI / 2, align: "center" }),
  ];
  fPanels.forEach((p, k) => {
    graphic.push(T(661, F_SIDE_Y[k], p.name, { fontSize: 12, fontWeight: "bold", rotation: Math.PI / 2, align: "center", lineHeight: 12.5 }));
    graphic.push(
      T(523, F_TOPS[k] - 7, "{p|P}{s|ANOVA}{n| < 0.0001}", {
        fontSize: 9.5,
        rich: {
          p: { fontSize: 9.5, fontStyle: "italic", fontFamily: FONT, fill: INK, color: INK },
          s: { fontSize: 4.5, fontFamily: FONT, fill: INK, color: INK, padding: [4, 0, 0, 0] },
          n: { fontSize: 9.5, fontFamily: FONT, fill: INK, color: INK },
        },
      })
    );
  });

  return {
    animation: false,
    backgroundColor: "#fff",
    textStyle: { fontFamily: FONT },
    grid,
    xAxis,
    yAxis,
    series,
    graphic,
  };
}

export default function App() {
  const ref = useRef<HTMLDivElement>(null);
  useEffect(() => {
    const chart = echarts.init(ref.current!, null, { renderer: "svg" });
    chart.setOption(buildOption() as any);
    return () => chart.dispose();
  }, []);
  return <div ref={ref} style={{ position: "absolute", left: 0, top: 0, width: 700, height: 1013 }} />;
}
